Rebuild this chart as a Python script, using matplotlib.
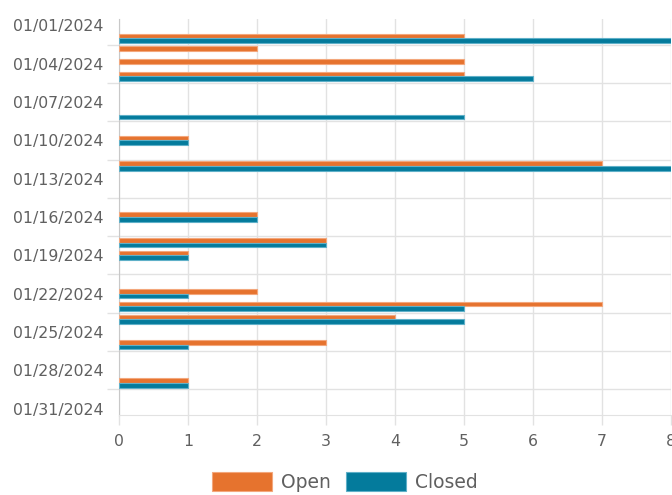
import datetime
import numpy as np
import matplotlib
matplotlib.use("agg")
import matplotlib.pyplot as plt
import matplotlib.dates as mdates
from matplotlib.patches import Patch

# daily ticket counts
days = ["2024-01-02", "2024-01-03", "2024-01-04", "2024-01-05", "2024-01-08",
        "2024-01-10", "2024-01-12", "2024-01-16", "2024-01-18", "2024-01-19",
        "2024-01-22", "2024-01-23", "2024-01-24", "2024-01-26", "2024-01-29"]
open_counts = [5, 2, 5, 5, 0, 1, 7, 2, 3, 1, 2, 7, 4, 3, 1]
closed_counts = [8, 0, 0, 6, 5, 1, 8, 2, 3, 1, 1, 5, 5, 1, 1]
series = ["Open", "Closed"]

ORANGE = "#e6732e"
ORANGE_EDGE = "#f3a77c"
TEAL = "#047b9c"
TEAL_EDGE = "#5fb0c8"
TEXT = "#606060"
GRID = "#e2e2e2"

plt.rcParams["font.family"] = ["DejaVu Sans"]

y = mdates.date2num([datetime.datetime.strptime(d, "%Y-%m-%d") for d in days])
op = np.array(open_counts)
cl = np.array(closed_counts)
h = 0.36

fig = plt.figure(figsize=(6.72, 4.95), dpi=100)
ax = fig.add_axes([119 / 672, 1 - 415 / 495, 552 / 672, 396 / 495])

m = op > 0
ax.barh(y[m] - h / 2, op[m], height=h, color=ORANGE, edgecolor=ORANGE_EDGE, linewidth=0.8, zorder=3)
m = cl > 0
ax.barh(y[m] + h / 2, cl[m], height=h, color=TEAL, edgecolor=TEAL_EDGE, linewidth=0.8, zorder=3)

start = mdates.date2num(datetime.datetime(2024, 1, 1))
ax.set_xlim(0, 8)
ax.set_ylim(start + 30.5, start - 0.5)

# date labels every 3 days, grid lines half way between them
ax.set_yticks([start + i for i in range(0, 31, 3)], minor=True)
ax.yaxis.set_minor_formatter(mdates.DateFormatter("%m/%d/%Y"))
ax.set_yticks([start + i + 1.5 for i in range(0, 30, 3)])
ax.set_yticklabels([])
ax.tick_params(axis="y", which="major", length=9, color=GRID, width=1)
ax.tick_params(axis="y", which="minor", length=0, pad=11, labelsize=11.3, labelcolor=TEXT)

ax.set_xticks(range(0, 9))
ax.tick_params(axis="x", length=7, color=GRID, width=1, pad=7, labelsize=11.3, labelcolor=TEXT)

ax.grid(True, which="major", color=GRID, linewidth=1, zorder=0)
ax.set_axisbelow(True)
for s in ["top", "right"]:
    ax.spines[s].set_visible(False)
ax.spines["left"].set_color("#c8c8c8")
ax.spines["bottom"].set_color(GRID)

handles = [Patch(facecolor=ORANGE, edgecolor=ORANGE_EDGE, linewidth=0.8),
           Patch(facecolor=TEAL, edgecolor=TEAL_EDGE, linewidth=0.8)]
fig.legend(handles, series, loc="center", bbox_to_anchor=(345 / 672, 1 - 482 / 495),
           ncol=2, frameon=False, fontsize=13.5, labelcolor=TEXT,
           handlelength=3.2, handleheight=1.2, handletextpad=0.5, columnspacing=0.8)

fig.savefig("out.png", dpi=100)
